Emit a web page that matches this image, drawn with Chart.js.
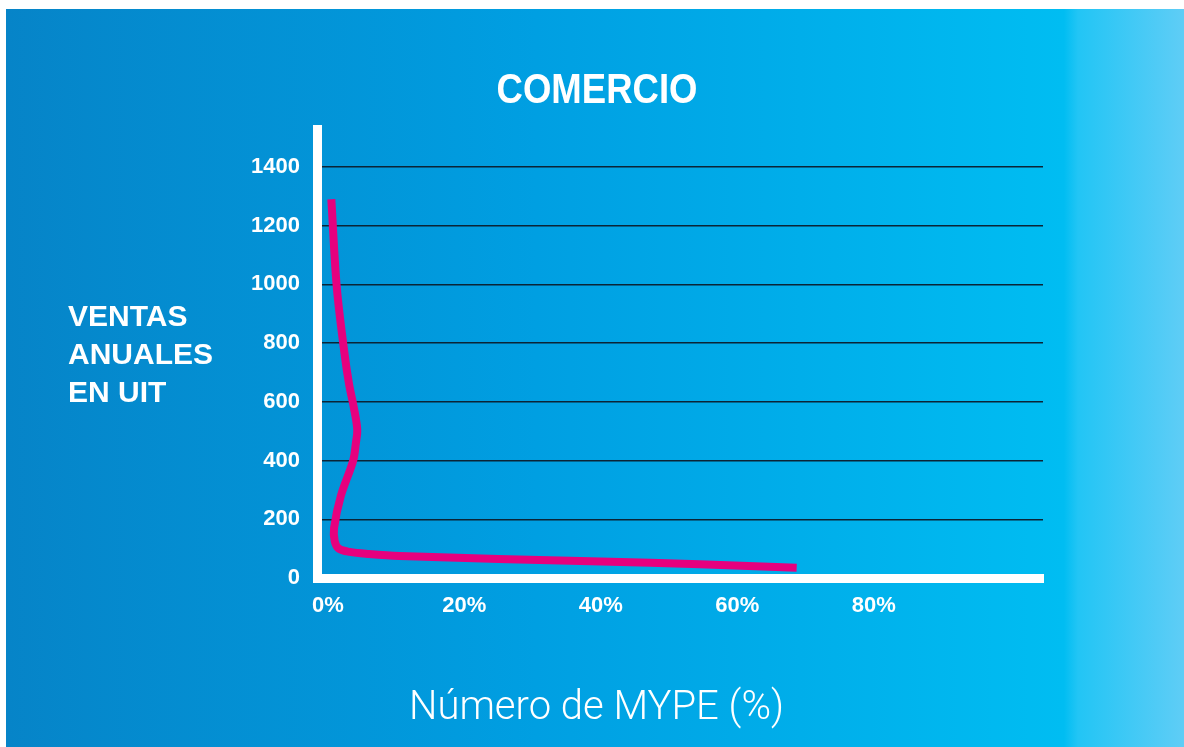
<!DOCTYPE html>
<html>
<head>
<meta charset="utf-8">
<script src="https://cdn.jsdelivr.net/npm/chart.js@4.4.1/dist/chart.umd.min.js"></script>
<style>
  html, body { margin: 0; padding: 0; background: #fff; }
  #wrap { position: relative; width: 1184px; height: 747px; overflow: hidden; }
  #bg {
    position: absolute; left: 6px; top: 9px; right: 0; bottom: 0;
    background: linear-gradient(to right, #0684c8 0%, #009fe2 45%, #00bdf2 89.8%, #22c5f5 91%, #5fcdf6 100%);
  }
  canvas { position: absolute; left: 0; top: 0; }
  .txt { position: absolute; color: #fff; white-space: nowrap; }
  #title { left: 0; width: 1194px; text-align: center; top: 68px; font: bold 42px/42px "Liberation Sans", Arial, sans-serif; transform: scaleX(0.87); transform-origin: 597px 0; }
  #ylab { left: 68px; top: 297px; font: bold 30px/38px "Liberation Sans", Arial, sans-serif; }
  #xlab { left: 0; width: 1193px; text-align: center; top: 686px; font: 300 40px/40px Roboto, "Liberation Sans", sans-serif; }
</style>
</head>
<body>
<div id="wrap">
  <div id="bg"></div>
  <canvas id="chart" width="1184" height="747"></canvas>
  <div class="txt" id="title">COMERCIO</div>
  <div class="txt" id="ylab">VENTAS<br>ANUALES<br>EN UIT</div>
  <div class="txt" id="xlab">Número de MYPE (%)</div>
</div>
<script>
// percentage of MYPE (x) against annual sales in UIT (y)
const shareMype = [0.5, 1.3, 2.4, 3.1, 3.8, 4.3, 4.1, 3.7, 1.9, 0.9, 1.0, 1.6, 3.2, 6, 10.5, 25, 40, 54.5, 68.7];
const ventasUit = [1290, 990, 770, 660, 580, 505, 460, 400, 280, 170, 125, 100, 89, 82, 75, 65, 56, 47, 35];
const yTicks = [0, 200, 400, 600, 800, 1000, 1200, 1400];
const xTicks = [0, 20, 40, 60, 80];

const points = shareMype.map((x, i) => ({ x: x, y: ventasUit[i] }));

const ctx = document.getElementById('chart').getContext('2d');
new Chart(ctx, {
    type: 'line',
    data: {
        datasets: [{
            data: points,
            borderColor: '#e6007e',
            borderWidth: 8,
            borderCapStyle: 'butt',
            borderJoinStyle: 'round',
            tension: 0.35,
            pointRadius: 0,
            fill: false
        }]
    },
    options: {
        responsive: false,
        devicePixelRatio: 1,
        animation: false,
        layout: { padding: { left: 0, top: 129, right: 141, bottom: 0 } },
        plugins: {
            legend: { display: false },
            tooltip: { enabled: false }
        },
        scales: {
            x: {
                type: 'linear',
                min: -1.6,
                max: 104.8,
                afterFit: (s) => { s.height = 169; },
                afterBuildTicks: (s) => { s.ticks = xTicks.map(v => ({ value: v })); },
                grid: { display: false, drawTicks: false },
                border: { display: true, color: '#ffffff', width: 9 },
                ticks: {
                    padding: 15,
                    color: '#ffffff',
                    font: { family: 'Liberation Sans', size: 22, weight: 'bold' },
                    callback: (v) => v + '%'
                }
            },
            y: {
                type: 'linear',
                min: 0,
                max: 1529,
                afterFit: (s) => { s.width = 317; },
                afterBuildTicks: (s) => { s.ticks = yTicks.map(v => ({ value: v })); },
                grid: { color: '#0b2436', lineWidth: 1.5, drawTicks: false },
                border: { display: true, color: '#ffffff', width: 9 },
                ticks: {
                    padding: 17,
                    color: '#ffffff',
                    font: { family: 'Liberation Sans', size: 22, weight: 'bold' },
                    callback: (v) => String(v)
                }
            }
        }
    }
});
</script>
</body>
</html>
